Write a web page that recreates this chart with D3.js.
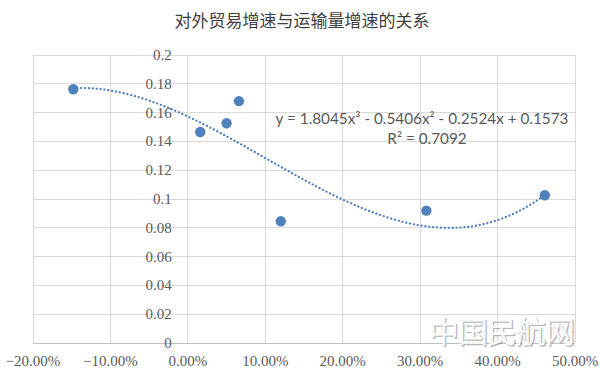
<!DOCTYPE html>
<html><head><meta charset="utf-8">
<script src="https://cdn.jsdelivr.net/npm/d3@7"></script>
<style>body{margin:0;background:#fff}svg{display:block}</style>
</head><body>
<svg id="c" width="600" height="381"></svg>
<script>
const title = "对外贸易增速与运输量增速的关系";
const xTicks = [-0.2,-0.1,0,0.1,0.2,0.3,0.4,0.5];
const yTicks = [0,0.02,0.04,0.06,0.08,0.1,0.12,0.14,0.16,0.18,0.2];
const xVals = [-0.148, 0.016, 0.050, 0.066, 0.120, 0.308, 0.461];
const yVals = [0.1762, 0.1465, 0.1526, 0.1680, 0.0845, 0.0919, 0.1026];
const coef = [1.8045, -0.5406, -0.2524, 0.1573]; // cubic trendline coefficients shown on chart
const eqText = "y = 1.8045x³ - 0.5406x² - 0.2524x + 0.1573";
const r2Text = "R² = 0.7092";
const watermark = "中国民航网";

const svg = d3.select("#c");
const x = d3.scaleLinear().domain([-0.2,0.5]).range([33,575]);
const y = d3.scaleLinear().domain([0,0.2]).range([343,55]);

svg.append("text").attr("x",302).attr("y",27).attr("text-anchor","middle")
  .attr("font-family","'Noto Sans CJK SC'").attr("font-size",17).attr("fill","#404040").text(title);

// gridlines
svg.append("g").selectAll("line").data(yTicks.filter(d=>d>0)).join("line")
  .attr("x1",x(-0.2)).attr("x2",x(0.5)).attr("y1",d=>y(d)).attr("y2",d=>y(d))
  .attr("stroke","#d9d9d9").attr("stroke-width",1).attr("shape-rendering","crispEdges");
svg.append("g").selectAll("line").data(xTicks).join("line")
  .attr("x1",d=>x(d)).attr("x2",d=>x(d)).attr("y1",y(0.2)).attr("y2",y(0))
  .attr("stroke","#d9d9d9").attr("stroke-width",1).attr("shape-rendering","crispEdges");

// x axis line at y=0
svg.append("line").attr("x1",x(-0.2)).attr("x2",x(0.5)).attr("y1",y(0)).attr("y2",y(0))
  .attr("stroke","#bfbfbf").attr("shape-rendering","crispEdges");

// y tick labels (left of axis at x=0)
svg.append("g").selectAll("text").data(yTicks).join("text")
  .attr("x",x(0)-16).attr("y",d=>y(d)+5).attr("text-anchor","end")
  .attr("font-family","'Liberation Serif'").attr("font-size",15).attr("fill","#595959")
  .text(d=>d3.format("")(+d.toFixed(2)));

// x tick labels
svg.append("g").selectAll("text").data(xTicks).join("text")
  .attr("x",d=>x(d)).attr("y",366).attr("text-anchor","middle")
  .attr("font-family","'Liberation Serif'").attr("font-size",15).attr("fill","#595959")
  .text(d=>d3.format(".2%")(d));

// trendline
const xs = d3.range(d3.min(xVals), d3.max(xVals)+1e-9, 0.002);
const f = t => coef[0]*t*t*t + coef[1]*t*t + coef[2]*t + coef[3];
svg.append("path").datum(xs)
  .attr("d", d3.line().x(d=>x(d)).y(d=>y(f(d))).curve(d3.curveLinear))
  .attr("fill","none").attr("stroke","#4a7ebb").attr("stroke-width",2.2)
  .attr("stroke-linecap","round").attr("stroke-dasharray","0.1 3.8");

// points
svg.append("g").selectAll("circle").data(xVals).join("circle")
  .attr("cx",d=>x(d)).attr("cy",(d,i)=>y(yVals[i])).attr("r",5.2).attr("fill","#4f81bd");

// equation
svg.append("text").attr("x",422).attr("y",124).attr("text-anchor","middle")
  .attr("font-family","Lato").attr("font-size",15.3).attr("fill","#595959").text(eqText);
svg.append("text").attr("x",427).attr("y",144).attr("text-anchor","middle")
  .attr("font-family","Lato").attr("font-size",15.3).attr("fill","#595959").text(r2Text);

// watermark
const wm = svg.append("g");
wm.append("text").attr("x",503).attr("y",344).attr("text-anchor","middle")
  .attr("font-family","'Noto Sans CJK SC'").attr("font-size",29).attr("font-weight",300)
  .attr("fill","none").attr("stroke","#9a9a9a").attr("stroke-width",1.6).attr("opacity",0.7).text(watermark);
wm.append("text").attr("x",502).attr("y",343).attr("text-anchor","middle")
  .attr("font-family","'Noto Sans CJK SC'").attr("font-size",29).attr("font-weight",300)
  .attr("fill","#f4f4f4").attr("stroke","#ffffff").attr("stroke-width",0.8).text(watermark);
</script>
</body></html>
